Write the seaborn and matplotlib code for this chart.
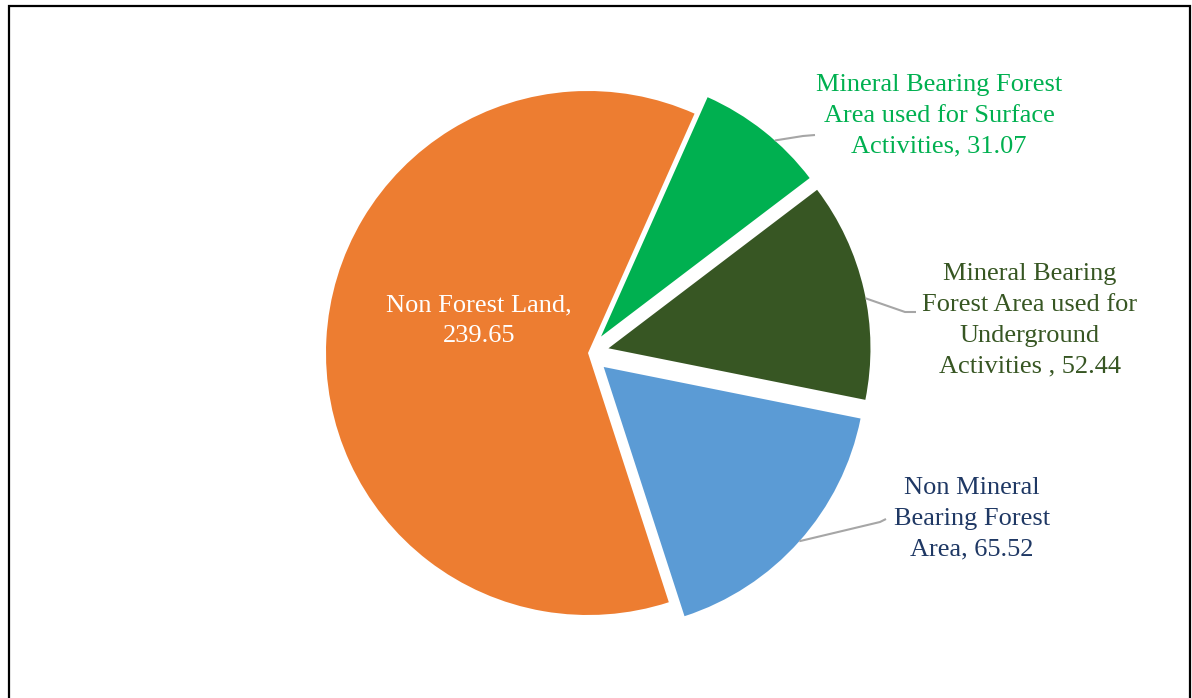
import numpy as np
import matplotlib
matplotlib.use("Agg")
import matplotlib.pyplot as plt
import matplotlib.patches as mpatches
import seaborn as sns

# data
labels = ["Mineral Bearing Forest\nArea used for Surface\nActivities, 31.07",
          "Mineral Bearing\nForest Area used for\nUnderground\nActivities , 52.44",
          "Non Mineral\nBearing Forest\nArea, 65.52",
          "Non Forest Land,\n239.65"]
values = [31.07, 52.44, 65.52, 239.65]
colors = ["#00B050", "#375623", "#5B9BD5", "#ED7D31"]
label_colors = ["#00B050", "#375623", "#1F3864", "#FFFFFF"]
explode_px = [21, 21, 21, 0]

sns.set_theme(style="white")
plt.rcParams["font.family"] = ["Liberation Serif", "DejaVu Serif"]

W, H = 1192, 698
fig = plt.figure(figsize=(W / 100, H / 100), dpi=100)
ax = fig.add_axes([0, 0, 1, 1])

radius = 262
center = (588, H - 353)
# explode is in data units here (pixels)
wedges, _ = ax.pie(values, colors=colors, startangle=66, counterclock=False,
                   radius=radius, center=center, explode=explode_px,
                   wedgeprops=dict(linewidth=0), frame=True)
ax.set_xlim(0, W)
ax.set_ylim(0, H)
ax.set_aspect("equal")
ax.axis("off")

# label positions (pixel layout)
label_pos = [(939, H - 115.5), (1030, H - 320.5), (972, H - 518.5), (479, H - 321)]
leader_frac = [0.39, 0.46, 0.5, None]
leader_end = [[(803, H - 136), (815, H - 135)],
              [(905, H - 312), (916, H - 312)],
              [(880, H - 522), (886, H - 519)],
              None]

for w, lab, col, pos, fr, le in zip(wedges, labels, label_colors, label_pos,
                                    leader_frac, leader_end):
    ax.text(pos[0], pos[1], lab, ha="center", va="center", color=col,
            fontsize=19, linespacing=1.52)
    if le is not None:
        ang = np.deg2rad(w.theta1 + fr * (w.theta2 - w.theta1))
        sx = w.center[0] + w.r * np.cos(ang)
        sy = w.center[1] + w.r * np.sin(ang)
        xs = [sx] + [p[0] for p in le]
        ys = [sy] + [p[1] for p in le]
        ax.plot(xs, ys, color="#A6A6A6", lw=1.5, solid_capstyle="butt")

# chart border
border = mpatches.Rectangle((8.5 / W, -0.05), (1189.5 - 8.5) / W, 1.05 - 6 / H,
                            transform=fig.transFigure, fill=False,
                            edgecolor="black", linewidth=1.6, clip_on=False)
fig.patches.append(border)

fig.savefig("out.png", dpi=100)
